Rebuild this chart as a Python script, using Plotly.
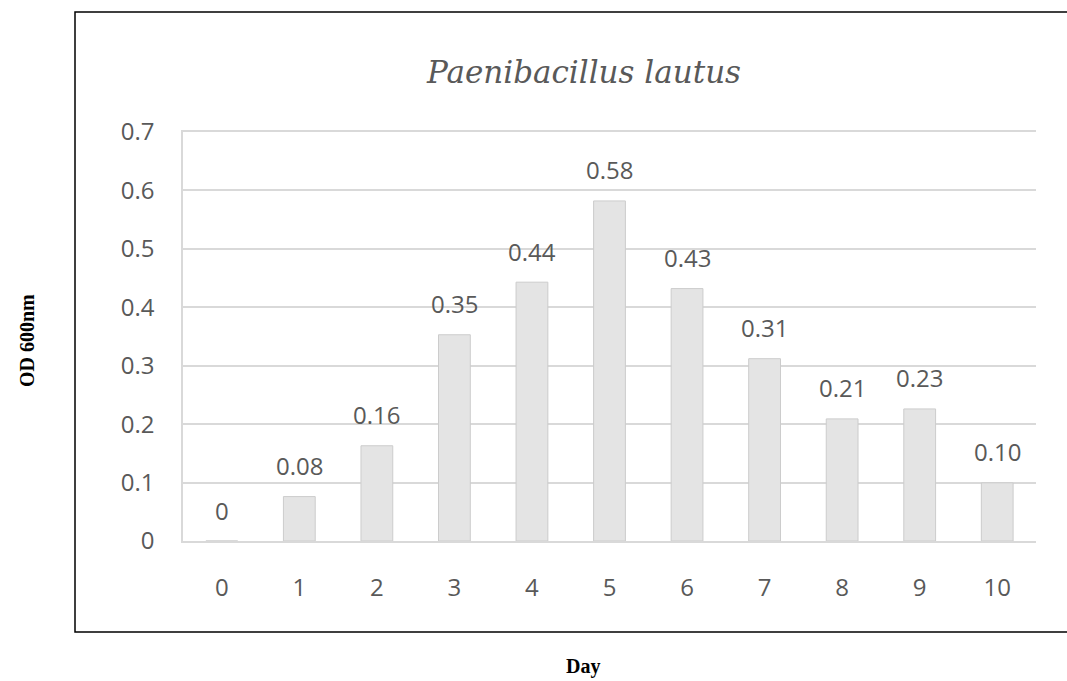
import plotly.graph_objects as go

days = ["0", "1", "2", "3", "4", "5", "6", "7", "8", "9", "10"]
od600 = [0.0, 0.076, 0.163, 0.353, 0.443, 0.582, 0.432, 0.312, 0.209, 0.226, 0.0995]
value_labels = ["0", "0.08", "0.16", "0.35", "0.44", "0.58", "0.43", "0.31", "0.21", "0.23", "0.10"]
y_ticks = [0, 0.1, 0.2, 0.3, 0.4, 0.5, 0.6, 0.7]
y_ticklabels = ["0", "0.1", "0.2", "0.3", "0.4", "0.5", "0.6", "0.7"]

W, H = 1067, 681
ML, MR, MT, MB = 183, 31, 132, 140
PW, PH = W - ML - MR, H - MT - MB

def px_x(px):
    return (px - ML) / PW

def px_y(py):
    return (H - MB - py) / PH

TXT = "#595959"
TICKFONT = dict(family="Open Sans", size=24, color=TXT)
SERIF = "'Liberation Serif', serif"

fig = go.Figure()
fig.add_trace(go.Bar(
    x=days, y=od600,
    marker=dict(color="#e4e4e4", line=dict(color="#cccccc", width=1)),
    hoverinfo="skip",
))

for d, v, t in zip(days, od600, value_labels):
    fig.add_annotation(x=d, y=v, text=t, showarrow=False, yshift=31,
                       font=TICKFONT, xanchor="center", yanchor="middle")

# title
fig.add_annotation(xref="paper", yref="paper", x=px_x(583), y=px_y(72),
                   text="Paenibacillus lautus", showarrow=False,
                   font=dict(family="DejaVu Serif", size=31, color=TXT, style="italic"),
                   xanchor="center", yanchor="middle")
# axis titles
fig.add_annotation(xref="paper", yref="paper", x=px_x(27), y=px_y(341),
                   text="<b>OD 600nm</b>", showarrow=False, textangle=-90,
                   font=dict(family=SERIF, size=20, color="#000000"),
                   xanchor="center", yanchor="middle")
fig.add_annotation(xref="paper", yref="paper", x=px_x(583), y=px_y(666),
                   text="<b>Day</b>", showarrow=False,
                   font=dict(family=SERIF, size=20, color="#000000"),
                   xanchor="center", yanchor="middle")

# outer border box
fig.add_shape(type="rect", xref="paper", yref="paper",
              x0=px_x(75), x1=px_x(1070), y0=px_y(632), y1=px_y(12),
              line=dict(color="#000000", width=1.5), fillcolor="rgba(0,0,0,0)", layer="below")

fig.update_layout(
    width=W, height=H,
    margin=dict(l=ML, r=MR, t=MT, b=MB, pad=0),
    paper_bgcolor="white", plot_bgcolor="white",
    showlegend=False,
    bargap=0.59,
    xaxis=dict(
        type="category", showgrid=False, showline=True, mirror=True,
        linecolor="#d9d9d9", linewidth=1.5,
        ticks="", tickfont=TICKFONT, ticklabelstandoff=24, zeroline=False,
    ),
    yaxis=dict(
        range=[0, 0.7], tickvals=y_ticks, ticktext=y_ticklabels,
        showgrid=True, gridcolor="#d9d9d9", gridwidth=1.5,
        showline=True, linecolor="#d9d9d9", linewidth=1.5, zeroline=False,
        ticks="", tickfont=TICKFONT, ticklabelstandoff=22,
    ),
)

fig.write_html("out.html")
